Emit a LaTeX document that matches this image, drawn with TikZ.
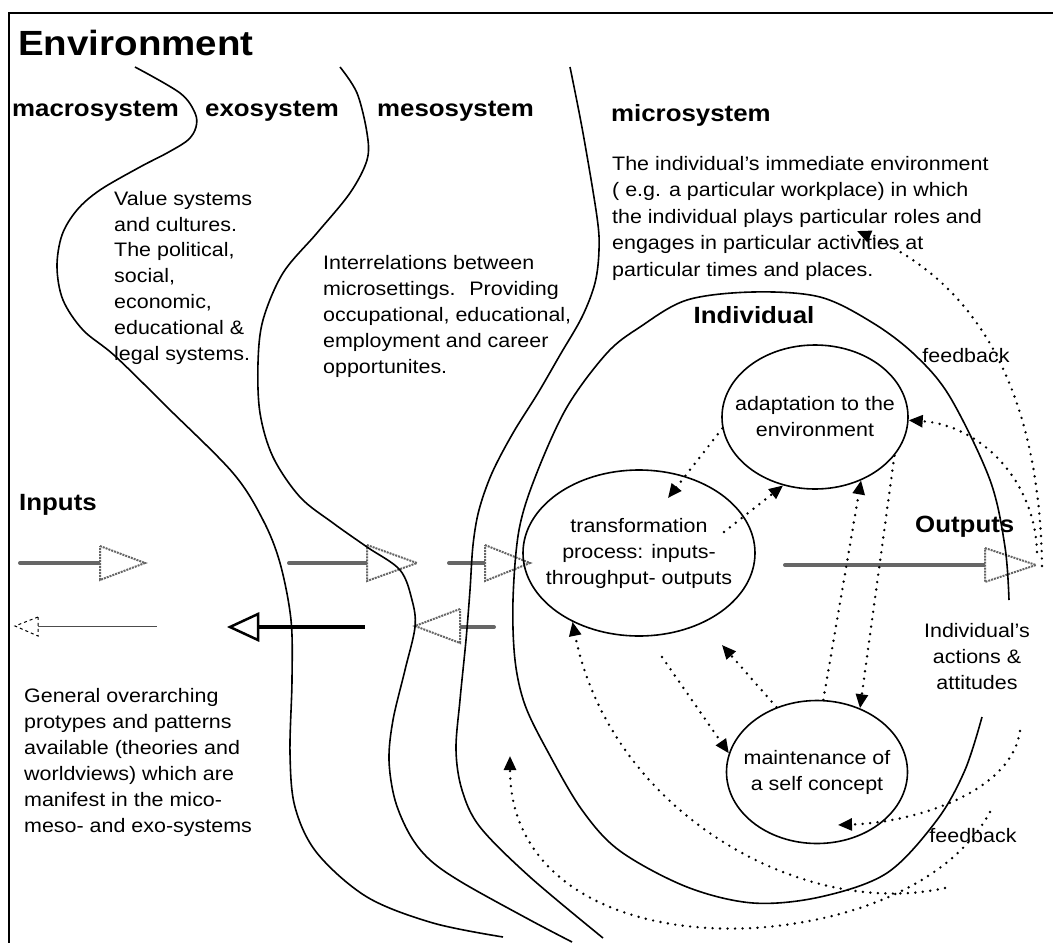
\documentclass[tikz,border=0pt]{standalone}
\usepackage{fontspec}
\setmainfont{Liberation Sans}[FakeStretch=1.1]
\usetikzlibrary{arrows.meta,shapes.geometric}
\begin{document}
\begin{tikzpicture}[x=1pt,y=-1pt,
  every node/.style={inner sep=0pt},
  body/.style={font=\fontsize{19.5}{25.8}\selectfont, align=left},
  headtxt/.style={font=\bfseries\fontsize{23.5}{28}\selectfont},
  bnd/.style={line width=1.6pt},
  ell/.style={ellipse, draw, line width=1.6pt, inner xsep=-18pt, inner ysep=0pt, align=center, font=\fontsize{19.5}{26}\selectfont},
  fb/.style={line width=2.7pt, line cap=round, dash pattern=on 0pt off 7.5pt, -{Triangle[length=14pt,width=12pt]}},
  gshaft/.style={draw=black!60, line width=4pt, dash pattern=on 2.5pt off 1pt},
  ghead/.style={draw=black!60, line width=2pt, dash pattern=on 2pt off 1pt, fill=white, line join=miter},
  bshaft/.style={draw=black, line width=3.5pt},
  bhead/.style={draw=black, line width=2.5pt, fill=white, line join=miter},
  tshaft/.style={draw=black!70, line width=1pt},
  thead/.style={draw=black, line width=1pt, dashed, fill=white}
]
\useasboundingbox (0,0) rectangle (1053,943);
% frame
\draw[line width=2pt] (9,943) -- (9,13) -- (1053,13);

% headings and texts (multi-line nodes are placed by the baseline of their last line)
\node[headtxt, font=\bfseries\fontsize{35}{40}\selectfont, anchor=base west] (env) at (18,55) {Environment};
\node[headtxt, anchor=base west] (macro) at (12,116) {macrosystem};
\node[headtxt, anchor=base west] (exo) at (205,116) {exosystem};
\node[headtxt, anchor=base west] (meso) at (377,116) {mesosystem};
\node[headtxt, anchor=base west] (micro) at (611,121) {microsystem};
\node[body, anchor=base west] (macrotxt) at (114,360) {Value systems\\and cultures.\\The political,\\social,\\economic,\\educational \&\\legal systems.};
\node[body, anchor=base west] (mesotxt) at (323,373) {Interrelations between\\microsettings.~ Providing\\occupational, educational,\\employment and career\\opportunites.};
\node[body, anchor=base west, font=\fontsize{19.5}{26.4}\selectfont] (microtxt) at (612,276) {The individual's immediate environment\\( e.g. a particular workplace) in which\\the individual plays particular roles and\\engages in particular activities at\\particular times and places.};
\node[headtxt, anchor=base] (indiv) at (754,323) {Individual};
\node[body, anchor=base] (fbtop) at (966,362) {feedback};
\node[headtxt, anchor=base west] (inputs) at (19,510) {Inputs};
\node[headtxt, anchor=base west] (outputs) at (915,532) {Outputs};
\node[body, align=center, anchor=base] (acts) at (977,689) {Individual's\\actions \&\\attitudes};
\node[body, anchor=base] (fbbot) at (973,842) {feedback};
\node[body, anchor=base west, font=\fontsize{19.5}{26}\selectfont] (gen) at (24,832) {General overarching\\protypes and patterns\\available (theories and\\worldviews) which are\\manifest in the mico-\\meso- and exo-systems};

% block arrows, top row (rightwards)
\draw[gshaft, line cap=round] (20,563) -- (100,563);
\draw[ghead] (100,546) -- (145,563) -- (100,580) -- cycle;
\draw[gshaft, line cap=round] (289,563) -- (367,563);
\draw[ghead] (367,545) -- (417,563) -- (367,581) -- cycle;
\draw[gshaft, line cap=round] (449,563) -- (485,563);
\draw[ghead] (485,545) -- (530,563) -- (485,581) -- cycle;
\draw[gshaft, line cap=round] (785,565) -- (985,565);
\draw[ghead] (985,548) -- (1036,565) -- (985,582) -- cycle;
% block arrows, bottom row (leftwards)
\draw[tshaft] (38,626) -- (157,626);
\draw[thead] (38,617) -- (15,626) -- (38,636) -- cycle;
\draw[bshaft] (258,627) -- (365,627);
\draw[bhead] (258,614) -- (230,627) -- (258,640) -- cycle;
\draw[gshaft, line cap=round] (460,627) -- (495,627);
\draw[ghead] (460,609) -- (415,626) -- (460,643) -- cycle;

% system boundaries
\draw[bnd] plot[smooth, tension=0.55] coordinates {(135,67) (180,93) (195,113) (196,127) (188,140) (167,153) (140,167) (100,190) (77,210) (62,235) (57,267) (63,300) (83,330) (115,356) (167,407) (233,473) (263,520) (280,563) (291,620) (292,680) (290,753) (295,807) (317,853) (367,897) (433,923) (503,937)};
\draw[bnd] plot[smooth, tension=0.55] coordinates {(340,67) (357,93) (367,133) (367,160) (350,193) (317,233) (283,273) (263,320) (258,363) (260,413) (273,457) (300,497) (333,523) (367,547) (400,570) (412,600) (415,627) (405,670) (393,720) (389,760) (395,800) (410,835) (430,860) (463,883) (530,920) (572,942)};
\draw[bnd] plot[smooth, tension=0.55] coordinates {(570,67) (583,133) (597,217) (599,250) (595,283) (582,317) (560,355) (538,393) (513,433) (492,473) (479,510) (473,545) (470,590) (466,640) (460,700) (456,750) (462,790) (480,827) (530,877) (603,938)};
% the individual
\draw[bnd] plot[smooth, tension=0.55] coordinates {(1009,600) (1005,547) (990,480) (950,397) (915,355) (873,323) (820,297) (753,292) (687,300) (640,327) (607,353) (567,407) (536,475) (519,530) (513,600) (515,660) (525,705) (548,752) (582,810) (620,851) (687,887) (753,903) (820,897) (887,873) (937,820) (965,770) (982,717)};

% inner processes
\node[ell, minimum width=186pt, minimum height=144pt] (adapt) at (815,417) {adaptation to the\\environment};
\node[ell, minimum width=232pt, minimum height=166pt] (trans) at (639,553) {transformation\\process: inputs-\\throughput- outputs};
\node[ell, minimum width=181pt, minimum height=143pt] (selfc) at (817,772) {maintenance of\\a self concept};

% free ends of the dotted connectors
\coordinate (f1e) at (668,498);
\coordinate (f2s) at (724,532);
\coordinate (f3s) at (1037,552);
\coordinate (f4s) at (1042,566);
\coordinate (f4e) at (857,231);
\coordinate (f7e) at (722,645);
\coordinate (f8s) at (662,657);
\coordinate (f9s) at (1020,731);
\coordinate (f9e) at (838,825);
\coordinate (d1s) at (945,888);
\coordinate (d2s) at (990,812);
\coordinate (d2m) at (753,928);
\coordinate (d2e) at (510,756);

% dotted connectors
\draw[fb] (adapt.187) -- (f1e);
\draw[fb] (f2s) -- (adapt.-115);
\draw[fb] (f3s) .. controls (1035,480) and (980,425) .. (adapt.-2);
\draw[fb] (f4s) .. controls (1040,420) and (995,290) .. (f4e);
\draw[fb] (selfc.85) -- (adapt.-54);
\draw[fb] (adapt.-26) -- (selfc.56);
\draw[fb] (selfc.122) -- (f7e);
\draw[fb] (f8s) -- (selfc.168);
\draw[fb] (f9s) .. controls (1012,790) and (920,822) .. (f9e);
\draw[fb] (d1s) .. controls (800,920) and (610,810) .. (trans.-134);
\draw[fb] (d2s) .. controls (950,885) and (850,922) .. (d2m) .. controls (620,935) and (510,880) .. (d2e);
\end{tikzpicture}
\end{document}
